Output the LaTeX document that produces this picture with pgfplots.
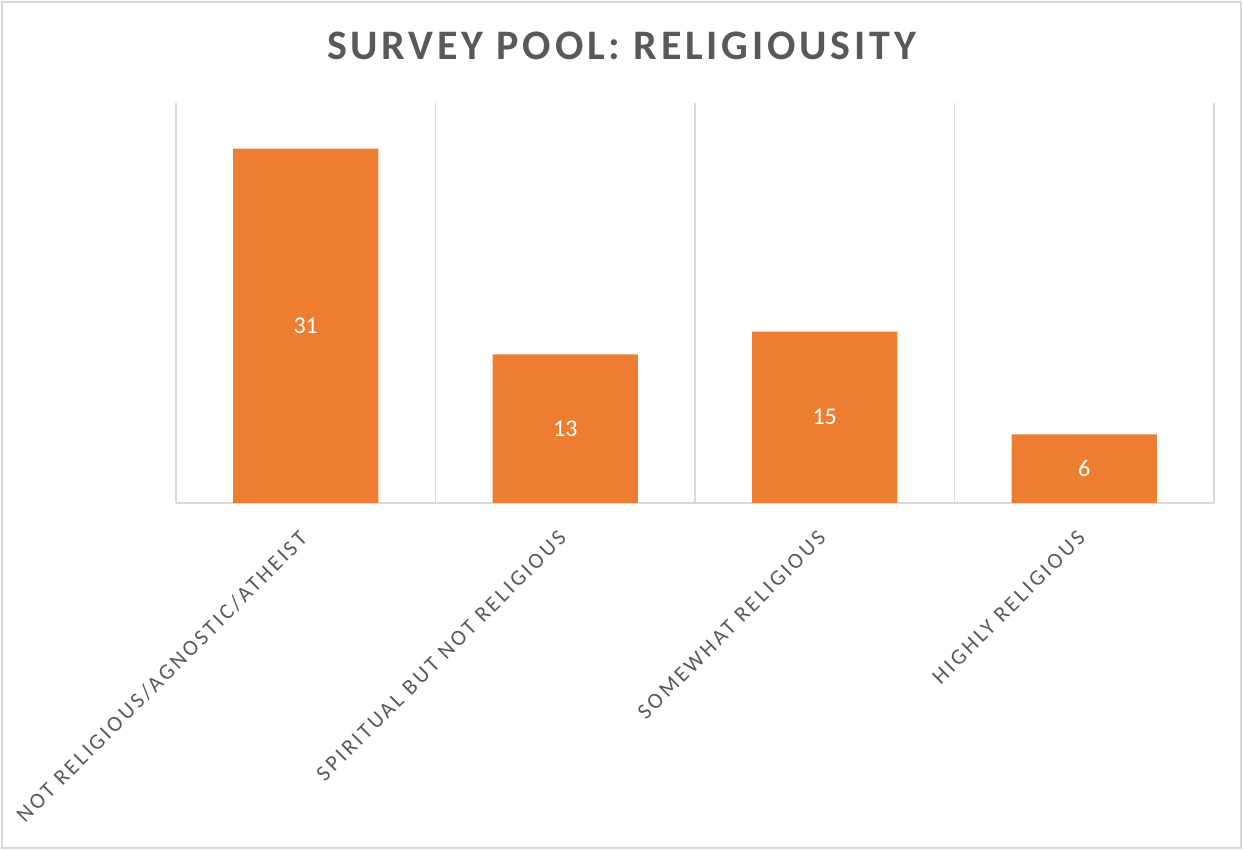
\documentclass[border=0pt]{standalone}
\usepackage{fontspec}
\setmainfont{Carlito}
\newfontfamily\titlefont[LetterSpace=9]{Carlito}
\newfontfamily\labelfont[LetterSpace=13]{Carlito}
\usepackage{pgfplots}
\pgfplotsset{compat=1.18}
\definecolor{barorange}{HTML}{ED7D31}
\definecolor{txtgray}{HTML}{595959}
\definecolor{gridgray}{HTML}{D9D9D9}
\begin{document}
\begin{tikzpicture}
% 1 px of the reference = 0.5pt
\path[use as bounding box] (-88pt,-173.5pt) rectangle (533.5pt,251.5pt);
\draw[gridgray, line width=0.8pt] (-87pt,-172.5pt) rectangle (532.5pt,250.5pt);
\node[text=txtgray, font=\titlefont\bfseries\fontsize{21}{24}\selectfont] at (222.75pt,228.5pt) {SURVEY POOL: RELIGIOUSITY};
\begin{axis}[
    at={(0,0)}, anchor=south west,
    scale only axis,
    width=519pt, height=200pt,
    xmin=-0.5, xmax=3.5,
    ymin=0, ymax=35,
    axis x line*=bottom,
    axis y line=none,
    x axis line style={gridgray, line width=1pt, -},
    xtick={0,1,2,3},
    xticklabels={NOT RELIGIOUS/AGNOSTIC/ATHEIST, SPIRITUAL BUT NOT RELIGIOUS, SOMEWHAT RELIGIOUS, HIGHLY RELIGIOUS},
    major tick length=0pt,
    minor xtick={-0.5,0.5,1.5,2.5,3.5},
    minor tick length=0pt,
    xminorgrids,
    minor grid style={gridgray, line width=0.8pt},
    xticklabel style={xshift=-4pt, yshift=-13pt, rotate=45, anchor=north east, inner sep=0pt,
        text=txtgray, font=\labelfont\fontsize{11}{13}\selectfont},
    /pgf/number format/assume math mode=true,
    clip=false,
]
\addplot[ybar, bar width=0.56, fill=barorange, draw=none,
    visualization depends on=rawy \as \rawy,
    nodes near coords,
    every node near coord/.append style={anchor=center, text=white,
        font=\fontsize{12}{14}\selectfont, yshift=-\rawy*2.857pt},
] coordinates {(0,31) (1,13) (2,15) (3,6)};
\end{axis}
\end{tikzpicture}
\end{document}
